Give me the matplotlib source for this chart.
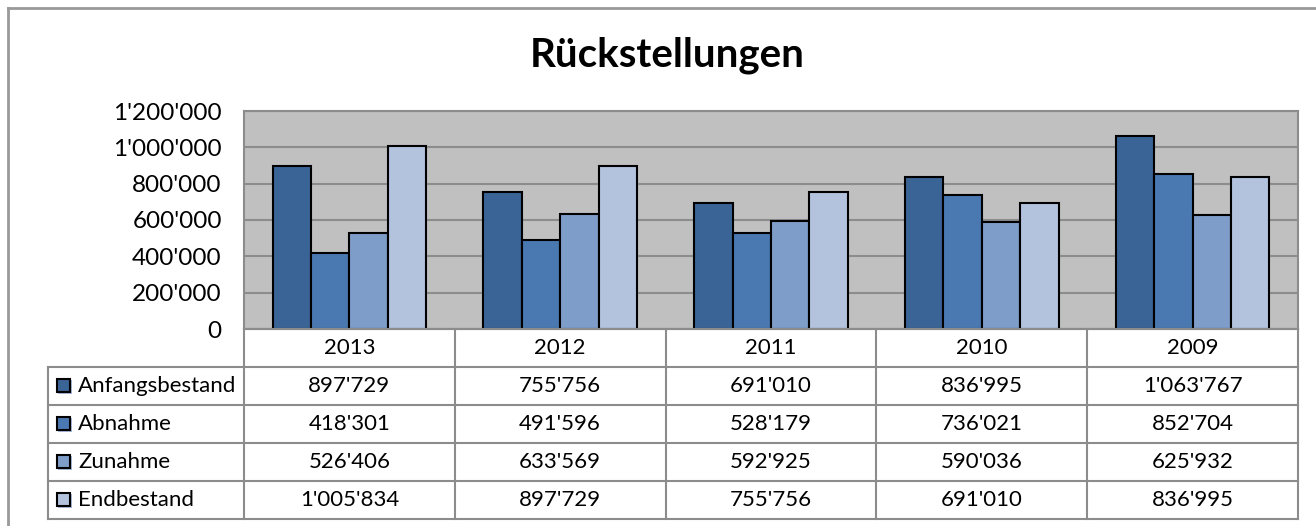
import matplotlib.pyplot as plt
import numpy as np
from matplotlib.patches import Rectangle
from matplotlib.lines import Line2D

plt.rcParams['font.family'] = ['Lato', 'DejaVu Sans']

years = ['2013', '2012', '2011', '2010', '2009']
series = ['Anfangsbestand', 'Abnahme', 'Zunahme', 'Endbestand']
anfangsbestand = [897729, 755756, 691010, 836995, 1063767]
abnahme = [418301, 491596, 528179, 736021, 852704]
zunahme = [526406, 633569, 592925, 590036, 625932]
endbestand = [1005834, 897729, 755756, 691010, 836995]
colors = ['#3b6496', '#4a79b2', '#7f9dc9', '#b3c3de']

values = [anfangsbestand, abnahme, zunahme, endbestand]


def fmt(v):
    return '{:,}'.format(v).replace(',', "'")


W, H = 1316, 526
fig = plt.figure(figsize=(W / 100, H / 100), dpi=100)

# outer frame of the chart object
fig.add_artist(Line2D([8 / W, 8 / W], [0, 1 - 8 / H], color='#999999', lw=2))
fig.add_artist(Line2D([8 / W, 1], [1 - 8 / H, 1 - 8 / H], color='#999999', lw=2))

x0, x1 = 244, 1298
y_top, y_zero = 111, 329
ax = fig.add_axes([x0 / W, 1 - y_zero / H, (x1 - x0) / W, (y_zero - y_top) / H])
ax.set_facecolor('#c0c0c0')
ax.set_xlim(-0.5, len(years) - 0.5)
ax.set_ylim(0, 1200000)
ax.set_yticks(np.arange(0, 1200001, 200000))
ax.set_yticklabels([fmt(int(t)) for t in ax.get_yticks()])
ax.yaxis.grid(True, color='#8c8c8c', lw=1.5)
ax.set_axisbelow(True)
ax.set_xticks([])
ax.tick_params(axis='y', length=0, labelsize=17.5, pad=16)
for s in ax.spines.values():
    s.set_color('#8c8c8c')
    s.set_linewidth(1.5)

bw = 0.182
x = np.arange(len(years))
for i, (vals, c) in enumerate(zip(values, colors)):
    ax.bar(x + (i - 1.5) * bw, vals, bw, color=c, edgecolor='black', lw=1.5, zorder=3)

fig.text(667 / W, 1 - 55 / H, 'Rückstellungen', ha='center', va='center',
         fontsize=29, fontweight='bold')

# data table below the plot
tx0 = 48
tb = fig.add_axes([tx0 / W, 1 - 519 / H, (x1 - tx0) / W, (519 - y_zero) / H])
tb.set_xlim(tx0, x1)
tb.set_ylim(519, y_zero)
tb.axis('off')
col_edges = np.linspace(x0, x1, len(years) + 1)
row_edges = [329, 367, 405, 443, 481, 519]
lc = '#8c8c8c'
# vertical lines
for cx in col_edges:
    tb.plot([cx, cx], [row_edges[0], row_edges[-1]], color=lc, lw=1.5, clip_on=False)
tb.plot([tx0, tx0], [row_edges[1], row_edges[-1]], color=lc, lw=1.5, clip_on=False)
# horizontal lines
tb.plot([x0, x1], [row_edges[0], row_edges[0]], color=lc, lw=1.5, clip_on=False)
for ry in row_edges[1:]:
    tb.plot([tx0, x1], [ry, ry], color=lc, lw=1.5, clip_on=False)

for j, yr in enumerate(years):
    cx = (col_edges[j] + col_edges[j + 1]) / 2
    tb.text(cx, (row_edges[0] + row_edges[1]) / 2, yr, ha='center', va='center', fontsize=16)
    for i, vals in enumerate(values):
        cy = (row_edges[i + 1] + row_edges[i + 2]) / 2
        tb.text(cx, cy, fmt(vals[j]), ha='center', va='center', fontsize=16)

for i, (name, c) in enumerate(zip(series, colors)):
    cy = (row_edges[i + 1] + row_edges[i + 2]) / 2
    tb.add_patch(Rectangle((58, cy - 6), 14, 14, facecolor='#a6b8d6', edgecolor='none', clip_on=False))
    tb.add_patch(Rectangle((57, cy - 7), 13, 13, facecolor=c, edgecolor='black', lw=1.5, clip_on=False))
    tb.text(78, cy, name, ha='left', va='center', fontsize=16)

fig.savefig('out.png', dpi=100)
